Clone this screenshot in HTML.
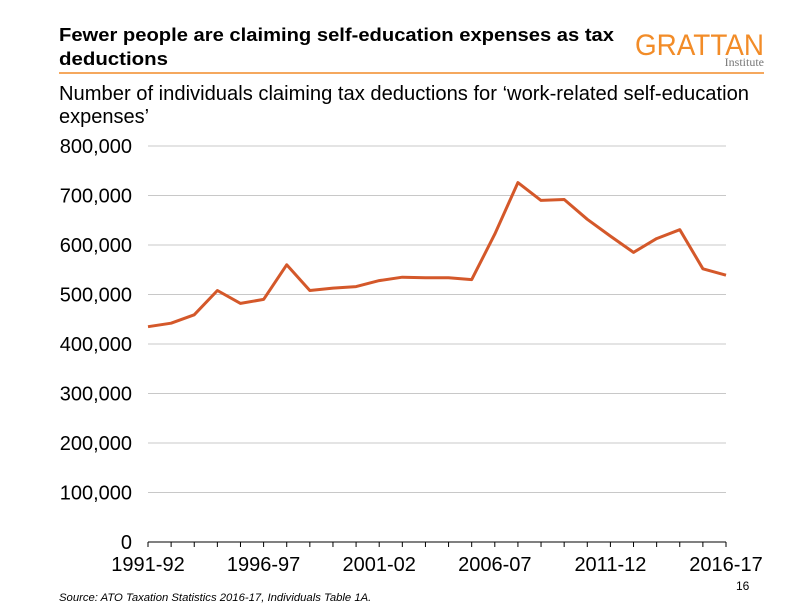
<!DOCTYPE html>
<html><head><meta charset="utf-8"><style>
body{margin:0;background:#fff;width:809px;height:606px;overflow:hidden;font-family:"Liberation Sans",Arial,sans-serif}
</style></head><body>
<svg width="809" height="606" xmlns="http://www.w3.org/2000/svg" font-family="Liberation Sans, Arial, sans-serif">
<text x="59" y="41" font-size="18" font-weight="bold" fill="#000" textLength="555" lengthAdjust="spacingAndGlyphs">Fewer people are claiming self-education expenses as tax</text>
<text x="59" y="65" font-size="18" font-weight="bold" fill="#000" textLength="109" lengthAdjust="spacingAndGlyphs">deductions</text>
<text x="635" y="55" font-size="30" fill="#f28c28" textLength="129" lengthAdjust="spacingAndGlyphs">GRATTAN</text>
<text x="764" y="66" font-size="12" fill="#777" text-anchor="end" font-family="Liberation Serif, serif">Institute</text>
<line x1="59" y1="73" x2="764" y2="73" stroke="#f28c28" stroke-width="1.5"/>
<text x="59" y="100" font-size="20" fill="#000" textLength="690" lengthAdjust="spacingAndGlyphs">Number of individuals claiming tax deductions for ‘work-related self-education</text>
<text x="59" y="123" font-size="20" fill="#000">expenses’</text>
<g stroke="#c8c8c8" stroke-width="1">
<line x1="148" y1="146" x2="726" y2="146"/><line x1="148" y1="195.5" x2="726" y2="195.5"/><line x1="148" y1="245" x2="726" y2="245"/><line x1="148" y1="294.5" x2="726" y2="294.5"/><line x1="148" y1="344" x2="726" y2="344"/><line x1="148" y1="393.5" x2="726" y2="393.5"/><line x1="148" y1="443" x2="726" y2="443"/><line x1="148" y1="492.5" x2="726" y2="492.5"/>
</g>
<g font-size="20" fill="#000" text-anchor="end">
<text x="132" y="153">800,000</text><text x="132" y="202.5">700,000</text><text x="132" y="252">600,000</text><text x="132" y="301.5">500,000</text><text x="132" y="351">400,000</text><text x="132" y="400.5">300,000</text><text x="132" y="450">200,000</text><text x="132" y="499.5">100,000</text><text x="132" y="549">0</text>
</g>
<line x1="148" y1="542" x2="726" y2="542" stroke="#000" stroke-width="1"/>
<g id="ticks" stroke="#000" stroke-width="1"></g>
<g font-size="20" fill="#000" text-anchor="middle">
<text x="148" y="571">1991-92</text><text x="263.6" y="571">1996-97</text><text x="379.2" y="571">2001-02</text><text x="494.8" y="571">2006-07</text><text x="610.4" y="571">2011-12</text><text x="726" y="571">2016-17</text>
</g>
<polyline id="ln" fill="none" stroke="#d4582a" stroke-width="3" stroke-linejoin="round"/>
<text x="736" y="590" font-size="12" fill="#000">16</text>
<text x="59" y="601" font-size="11.3" font-style="italic" fill="#000">Source: ATO Taxation Statistics 2016-17, Individuals Table 1A.</text>
</svg>
<script>
var d=[435,442,459,508,482,490,560,508,513,516,528,535,534,534,530,622,726,690,692,652,618,585,613,631,552,539];
var p=[],t='';
for(var i=0;i<26;i++){var x=148+i*23.12;p.push(x.toFixed(1)+','+(542-d[i]*0.495).toFixed(1));t+='<line x1="'+x+'" y1="542" x2="'+x+'" y2="547"/>';}
document.getElementById('ln').setAttribute('points',p.join(' '));
document.getElementById('ticks').innerHTML=t;
</script>
</body></html>
